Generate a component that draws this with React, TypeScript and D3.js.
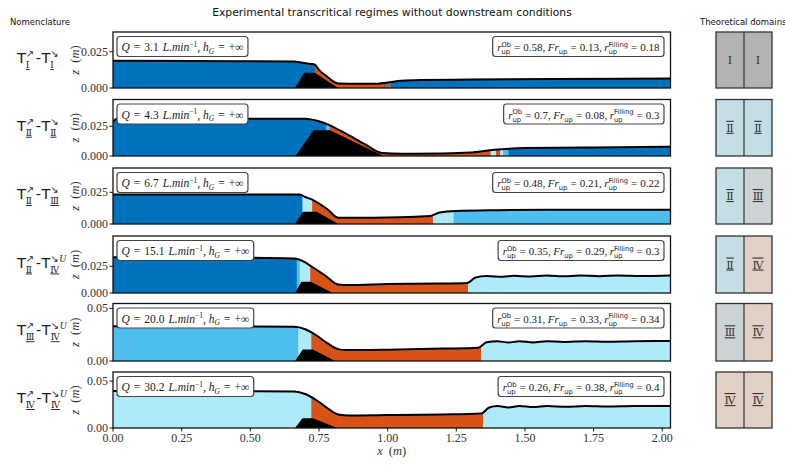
import React, { useEffect, useRef } from "react";
import * as d3 from "d3";

// ---------------- data ----------------
const flowRates = ["3.1", "4.3", "6.7", "15.1", "20.0", "30.2"];
const rObValues = ["0.58", "0.7", "0.48", "0.35", "0.31", "0.26"];
const frUpValues = ["0.13", "0.08", "0.21", "0.29", "0.33", "0.38"];
const rFillingValues = ["0.18", "0.3", "0.22", "0.3", "0.34", "0.4"];
const upstreamRegimes = ["Ⅰ", "Ⅱ", "Ⅱ", "Ⅱ", "Ⅲ", "Ⅳ"];
const downstreamRegimes = ["Ⅰ", "Ⅱ", "Ⅲ", "Ⅳ", "Ⅳ", "Ⅳ"];
const undularFlags = [false, false, false, true, true, true];
const yMaxValues = [0.0386, 0.0475, 0.0442, 0.0534, 0.0547, 0.0596];
const yTickValues = [
  [0, 0.025],
  [0, 0.025],
  [0, 0.025],
  [0, 0.025],
  [0, 0.05],
  [0, 0.05],
];
const yTickDecimals = [3, 3, 3, 3, 2, 2];
const xTickValues = [0, 0.25, 0.5, 0.75, 1.0, 1.25, 1.5, 1.75, 2.0];
const X_MAX = 2.03;

// water surface [x (m), z (m)]
const surface1 = [[0, 0.0188], [0.3, 0.0186], [0.66, 0.0183], [0.69, 0.0174], [0.72, 0.0166], [0.735, 0.016], [0.75, 0.0125], [0.78, 0.0078], [0.82, 0.0031], [0.9, 0.0029], [0.95, 0.0029], [1.0, 0.0038], [1.05, 0.005], [1.12, 0.0055], [1.3, 0.0058], [1.6, 0.0062], [2.03, 0.0065]];
const surface2 = [[0, 0.029], [0.015, 0.0314], [0.3, 0.0314], [0.7, 0.0313], [0.75, 0.0292], [0.79, 0.0258], [0.85, 0.0185], [0.92, 0.0095], [0.98, 0.0025], [1.05, 0.0018], [1.2, 0.0021], [1.3, 0.0029], [1.38, 0.005], [1.5, 0.0067], [1.75, 0.0072], [2.03, 0.0078]];
const surface3 = [[0, 0.0233], [0.5, 0.0233], [0.68, 0.0232], [0.7, 0.0213], [0.725, 0.0193], [0.78, 0.0118], [0.82, 0.005], [0.9, 0.0049], [1.1, 0.0058], [1.155, 0.0063], [1.19, 0.0091], [1.25, 0.0103], [1.4, 0.0109], [1.6, 0.0112], [2.03, 0.0112]];
const surface4 = [[0, 0.0334], [0.4, 0.0332], [0.66, 0.0323], [0.7, 0.0286], [0.72, 0.0253], [0.77, 0.0169], [0.82, 0.008], [0.86, 0.0075], [1.0, 0.0084], [1.2, 0.0089], [1.29, 0.0094], [1.32, 0.0145], [1.36, 0.0159], [1.42, 0.0152], [1.46, 0.0161], [1.52, 0.0154], [1.58, 0.0163], [1.64, 0.0156], [1.7, 0.0164], [1.77, 0.0157], [1.84, 0.0164], [1.92, 0.0159], [2.03, 0.0164]];
const surface5 = [[0, 0.033], [0.4, 0.033], [0.66, 0.0325], [0.7, 0.0302], [0.74, 0.0245], [0.78, 0.017], [0.82, 0.0113], [0.85, 0.0104], [1.0, 0.0108], [1.2, 0.0118], [1.33, 0.0127], [1.36, 0.0179], [1.4, 0.0189], [1.44, 0.0175], [1.48, 0.0189], [1.53, 0.0176], [1.58, 0.0189], [1.64, 0.0181], [1.72, 0.0189], [1.8, 0.0184], [1.9, 0.0189], [2.03, 0.019]];
const surface6 = [[0, 0.0394], [0.4, 0.0394], [0.66, 0.0388], [0.7, 0.0362], [0.74, 0.0298], [0.78, 0.0213], [0.82, 0.0144], [0.86, 0.0133], [1.0, 0.0138], [1.2, 0.0144], [1.34, 0.0154], [1.37, 0.0218], [1.4, 0.0234], [1.44, 0.0218], [1.48, 0.0234], [1.53, 0.0223], [1.58, 0.0234], [1.65, 0.0226], [1.72, 0.0234], [1.8, 0.0229], [1.9, 0.0234], [2.03, 0.0234]];
const surfaces = [surface1, surface2, surface3, surface4, surface5, surface6];

// obstacle (bed) profile [x, z]
const bed1 = [[0.663, 0], [0.696, 0.0105], [0.735, 0.0105], [0.82, 0]];
const bed2 = [[0.665, 0], [0.73, 0.0217], [0.79, 0.0217], [0.985, 0]];
const bed3 = [[0.663, 0], [0.692, 0.0097], [0.742, 0.0097], [0.821, 0]];
const bed4 = [[0.663, 0], [0.686, 0.0106], [0.72, 0.0106], [0.8, 0]];
const bed5 = [[0.663, 0], [0.691, 0.011], [0.728, 0.011], [0.809, 0]];
const bed6 = [[0.663, 0], [0.69, 0.0103], [0.728, 0.0103], [0.816, 0]];
const beds = [bed1, bed2, bed3, bed4, bed5, bed6];

// flow regime segments [x0, x1, regime]  D: dark blue, M: medium blue, L: light blue, O: orange
const segments1 = [[0, 0.735, "D"], [0.735, 0.985, "O"], [0.985, 0.99, "D"], [0.99, 1.01, "O"], [1.01, 2.1, "D"]];
const segments2 = [[0, 0.775, "D"], [0.775, 0.79, "M"], [0.79, 1.375, "O"], [1.375, 1.395, "L"], [1.395, 1.41, "O"], [1.41, 1.42, "L"], [1.42, 1.44, "M"], [1.44, 2.1, "D"]];
const segments3 = [[0, 0.69, "D"], [0.69, 0.725, "L"], [0.725, 1.165, "O"], [1.165, 1.24, "L"], [1.24, 2.1, "M"]];
const segments4 = [[0, 0.669, "D"], [0.669, 0.68, "M"], [0.68, 0.718, "L"], [0.718, 1.293, "O"], [1.293, 2.1, "L"]];
const segments5 = [[0, 0.675, "M"], [0.675, 0.722, "L"], [0.722, 1.34, "O"], [1.34, 2.1, "L"]];
const segments6 = [[0, 0.722, "L"], [0.722, 1.348, "O"], [1.348, 2.1, "L"]];
const segmentsAll = [segments1, segments2, segments3, segments4, segments5, segments6];

// ---------------- styles / layout ----------------
const REGIME_COLORS: Record<string, string> = { D: "#0072BD", M: "#4DBEEE", L: "#ADEBFA", O: "#D95319" };
const DOMAIN_COLORS: Record<string, string> = { "Ⅰ": "#b3b3b1", "Ⅱ": "#c3dfe5", "Ⅲ": "#cbd3d5", "Ⅳ": "#e2cfc5" };
const PANEL_TOPS = [32, 99.5, 168, 236, 303.5, 372];
const PANEL_BOTTOMS = [88, 156, 224, 293, 361, 428];
const X_LEFT = 113;
const X_RIGHT = 670.5;
const SERIF = "'Liberation Serif', 'DejaVu Serif', serif";
const NUMERAL = "'DejaVu Serif', serif";
const SANS = "'DejaVu Sans', sans-serif";

type Piece = any;

function rich(parent: any, pieces: Piece[], x: number, y: number, anchor: string, baseSize = 11) {
  const g = parent.append("g");
  let cx = 0;
  const put = (p: any, at: number) => {
    const t = g
      .append("text")
      .attr("x", at)
      .attr("y", p.dy || 0)
      .attr("font-family", p.fam || SERIF)
      .attr("font-size", p.size || baseSize)
      .attr("font-style", p.it ? "italic" : "normal")
      .attr("fill", p.fill || "#1a1a1a")
      .text(p.t);
    if (p.ul) t.attr("text-decoration", "underline");
    return (t.node() as SVGTextElement).getComputedTextLength();
  };
  for (const p of pieces) {
    if (p.gap !== undefined) cx += p.gap;
    else if (p.stack) {
      let w = 0;
      for (const q of p.stack) w = Math.max(w, put(q, cx));
      cx += w;
    } else cx += put(p, cx);
  }
  const off = anchor === "end" ? -cx : anchor === "middle" ? -cx / 2 : 0;
  g.attr("transform", `translate(${x + off},${y})`);
  return { g, width: cx, left: x + off };
}

function drawBox(parent: any, pieces: Piece[], x: number, top: number, anchor: string, baseSize: number) {
  const grp = parent.append("g");
  const r = rich(grp, pieces, x, top + 14.5, anchor, baseSize);
  grp
    .insert("rect", ":first-child")
    .attr("x", r.left - 4.5)
    .attr("y", top)
    .attr("width", r.width + 9)
    .attr("height", 20)
    .attr("rx", 3)
    .attr("fill", "#fff")
    .attr("stroke", "#444")
    .attr("stroke-width", 1.2);
}

export default function App() {
  const ref = useRef<SVGSVGElement>(null);

  useEffect(() => {
    document.body.style.margin = "0";
    const svg = d3.select(ref.current);
    svg.selectAll("*").remove();
    const x = d3.scaleLinear().domain([0, X_MAX]).range([X_LEFT, X_RIGHT]);

    svg
      .append("text")
      .attr("x", 392)
      .attr("y", 16)
      .attr("text-anchor", "middle")
      .attr("font-family", SANS)
      .attr("font-size", 10.8)
      .attr("fill", "#111")
      .text("Experimental transcritical regimes without downstream conditions");
    svg.append("text").attr("x", 10).attr("y", 25).attr("font-family", SANS).attr("font-size", 8.5).attr("fill", "#111").text("Nomenclature");
    svg.append("text").attr("x", 700).attr("y", 25).attr("font-family", SANS).attr("font-size", 8.5).attr("fill", "#111").text("Theoretical domains");

    const defs = svg.append("defs");

    for (let i = 0; i < 6; i++) {
      const top = PANEL_TOPS[i];
      const bottom = PANEL_BOTTOMS[i];
      const y = d3.scaleLinear().domain([0, yMaxValues[i]]).range([bottom, top]);
      const g = svg.append("g");
      const clipId = `clip${i}`;
      defs
        .append("clipPath")
        .attr("id", clipId)
        .append("rect")
        .attr("x", X_LEFT)
        .attr("y", top)
        .attr("width", X_RIGHT - X_LEFT)
        .attr("height", bottom - top);
      const inner = g.append("g").attr("clip-path", `url(#${clipId})`);

      const surf = surfaces[i];
      const area = d3
        .area<number[]>()
        .x((d) => x(d[0]))
        .y0(y(0))
        .y1((d) => y(d[1]))
        .curve(d3.curveMonotoneX);
      segmentsAll[i].forEach((s: any, k: number) => {
        const sid = `seg${i}_${k}`;
        defs
          .append("clipPath")
          .attr("id", sid)
          .append("rect")
          .attr("x", x(s[0]))
          .attr("y", top)
          .attr("width", Math.max(0, x(s[1]) - x(s[0])) + 0.3)
          .attr("height", bottom - top);
        inner
          .append("path")
          .attr("d", area(surf as number[][]))
          .attr("fill", REGIME_COLORS[s[2]])
          .attr("clip-path", `url(#${sid})`);
      });
      // bed
      const bedLine = d3
        .line<number[]>()
        .x((d) => x(d[0]))
        .y((d) => y(d[1]));
      inner.append("path").attr("d", bedLine(beds[i] as number[][]) + "Z").attr("fill", "#000");
      // surface line
      const line = d3
        .line<number[]>()
        .x((d) => x(d[0]))
        .y((d) => y(d[1]))
        .curve(d3.curveMonotoneX);
      inner
        .append("path")
        .attr("d", line(surf as number[][]))
        .attr("fill", "none")
        .attr("stroke", "#000")
        .attr("stroke-width", 2);

      // frame
      g.append("rect")
        .attr("x", X_LEFT)
        .attr("y", top)
        .attr("width", X_RIGHT - X_LEFT)
        .attr("height", bottom - top)
        .attr("fill", "none")
        .attr("stroke", "#111")
        .attr("stroke-width", 1.3);

      // y ticks
      yTickValues[i].forEach((v) => {
        g.append("line")
          .attr("x1", X_LEFT - 3.5)
          .attr("x2", X_LEFT)
          .attr("y1", y(v))
          .attr("y2", y(v))
          .attr("stroke", "#111")
          .attr("stroke-width", 1);
        g.append("text")
          .attr("x", X_LEFT - 5)
          .attr("y", y(v) + 4)
          .attr("text-anchor", "end")
          .attr("font-family", SERIF)
          .attr("font-size", 12)
          .attr("fill", "#333")
          .text(v.toFixed(yTickDecimals[i]));
      });

      // y label
      const cy = (top + bottom) / 2;
      const yl = g
        .append("text")
        .attr("transform", `translate(79,${cy}) rotate(-90)`)
        .attr("text-anchor", "middle")
        .attr("font-family", SERIF)
        .attr("font-size", 12.5)
        .attr("fill", "#333");
      yl.append("tspan").attr("font-style", "italic").text("z");
      yl.append("tspan").attr("dx", 7).text("(");
      yl.append("tspan").attr("font-style", "italic").text("m");
      yl.append("tspan").text(")");

      // left annotation box
      drawBox(
        g,
        [
          { t: "Q", it: true },
          { gap: 4 },
          { t: "=" },
          { gap: 4 },
          { t: flowRates[i] },
          { gap: 4 },
          { t: "L.min", it: true },
          { t: "−1", size: 7.5, dy: -4.5 },
          { t: "," },
          { gap: 3 },
          { t: "h", it: true },
          { t: "G", it: true, size: 7.5, dy: 2.5 },
          { gap: 4 },
          { t: "=" },
          { gap: 4 },
          { t: "+∞" },
        ],
        X_LEFT + 8.5,
        top + 4.5,
        "start",
        11.5
      );

      // right annotation box
      drawBox(
        g,
        [
          { t: "r", it: true },
          { stack: [{ t: "Ob", fam: SANS, size: 6.8, dy: -4.5 }, { t: "up", fam: SANS, size: 6.8, dy: 3 }] },
          { gap: 3 },
          { t: "=" },
          { gap: 3 },
          { t: rObValues[i] },
          { t: "," },
          { gap: 2.5 },
          { t: "Fr", it: true },
          { t: "up", fam: SANS, size: 6.8, dy: 3 },
          { gap: 3 },
          { t: "=" },
          { gap: 3 },
          { t: frUpValues[i] },
          { t: "," },
          { gap: 2.5 },
          { t: "r", it: true },
          { stack: [{ t: "Filling", fam: SANS, size: 6.8, dy: -4.5 }, { t: "up", fam: SANS, size: 6.8, dy: 3 }] },
          { gap: 3 },
          { t: "=" },
          { gap: 3 },
          { t: rFillingValues[i] },
        ],
        X_RIGHT - 11,
        top + 4.5,
        "end",
        11
      );

      // nomenclature
      const nom: Piece[] = [
        { t: "T", fam: SANS, size: 14.5 },
        { stack: [{ t: "↗", fam: SANS, size: 10, dy: -6 }, { t: upstreamRegimes[i], fam: NUMERAL, size: 9, dy: 5, ul: true }] },
        { gap: 1.5 },
        { t: "-", fam: SANS, size: 14.5 },
        { gap: 0.5 },
        { t: "T", fam: SANS, size: 14.5 },
        { stack: [{ t: "↘", fam: SANS, size: 10, dy: -6 }, { t: downstreamRegimes[i], fam: NUMERAL, size: 9, dy: 5, ul: true }] },
      ];
      if (undularFlags[i]) nom.push({ t: "U", it: true, fam: SERIF, size: 9.5, dy: -6 });
      rich(svg, nom, 17, cy + 3, "start");

      // theoretical domain boxes
      const bx0 = 716;
      const bx1 = 772;
      const bm = (bx0 + bx1) / 2;
      const dg = svg.append("g");
      dg.append("rect").attr("x", bx0).attr("y", top).attr("width", bm - bx0).attr("height", bottom - top).attr("fill", DOMAIN_COLORS[upstreamRegimes[i]]);
      dg.append("rect").attr("x", bm).attr("y", top).attr("width", bx1 - bm).attr("height", bottom - top).attr("fill", DOMAIN_COLORS[downstreamRegimes[i]]);
      dg.append("rect")
        .attr("x", bx0)
        .attr("y", top)
        .attr("width", bx1 - bx0)
        .attr("height", bottom - top)
        .attr("fill", "none")
        .attr("stroke", "#333")
        .attr("stroke-width", 1.3);
      dg.append("line").attr("x1", bm).attr("x2", bm).attr("y1", top).attr("y2", bottom).attr("stroke", "#333").attr("stroke-width", 1.2);
      [upstreamRegimes[i], downstreamRegimes[i]].forEach((r, k) => {
        dg.append("text")
          .attr("x", k === 0 ? (bx0 + bm) / 2 : (bm + bx1) / 2)
          .attr("y", cy + 4)
          .attr("text-anchor", "middle")
          .attr("font-family", NUMERAL)
          .attr("font-size", 11)
          .attr("fill", "#333")
          .attr("text-decoration", r === "Ⅰ" ? "none" : "underline overline")
          .text(r);
      });

      // x axis on last panel
      if (i === 5) {
        xTickValues.forEach((v) => {
          g.append("line").attr("x1", x(v)).attr("x2", x(v)).attr("y1", bottom).attr("y2", bottom + 3.5).attr("stroke", "#111");
          g.append("text")
            .attr("x", x(v))
            .attr("y", bottom + 14)
            .attr("text-anchor", "middle")
            .attr("font-family", SERIF)
            .attr("font-size", 12)
            .attr("fill", "#333")
            .text(v.toFixed(2));
        });
        const xl = g
          .append("text")
          .attr("x", (X_LEFT + X_RIGHT) / 2)
          .attr("y", bottom + 27)
          .attr("text-anchor", "middle")
          .attr("font-family", SERIF)
          .attr("font-size", 12.5)
          .attr("fill", "#333");
        xl.append("tspan").attr("font-style", "italic").text("x");
        xl.append("tspan").attr("dx", 6).text("(");
        xl.append("tspan").attr("font-style", "italic").text("m");
        xl.append("tspan").text(")");
      }
    }
  }, []);

  return <svg ref={ref} width={785} height={465} style={{ display: "block", background: "#fff" }} />;
}
